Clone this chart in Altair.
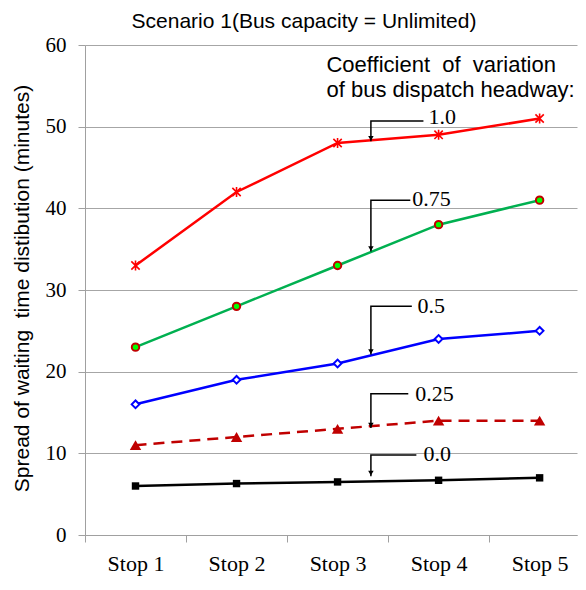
import altair as alt
import pandas as pd

# ---- data ----
stops = ["Stop 1", "Stop 2", "Stop 3", "Stop 4", "Stop 5"]
stop_pos = [1, 2, 3, 4, 5]
cv_labels = ["1.0", "0.75", "0.5", "0.25", "0.0"]
v_10 = [33, 42, 48, 49, 51]
v_075 = [23, 28, 33, 38, 41]
v_05 = [16, 19, 21, 24, 25]
v_025 = [11, 12, 13, 14, 14]
v_00 = [6.0, 6.3, 6.5, 6.7, 7.0]
series_values = [v_10, v_075, v_05, v_025, v_00]

# callout annotations (data units)
call_x = 3.33
call_elbow_y = [50.7, 41.0, 28.0, 17.3, 9.8]
call_tip_y = [48.2, 34.7, 22.1, 13.1, 7.2]
call_end_x = [3.85, 3.72, 3.735, 3.70, 3.78]
call_text_x = [3.90, 3.74, 3.79, 3.77, 3.85]
call_text_y = [51.2, 41.2, 28.1, 17.3, 9.9]

legend_lines = ["Coefficient\u00a0 of\u00a0 variation", "of bus dispatch headway:"]
legend_x = 2.89
legend_y = [57.6, 54.55]

title_text = "Scenario 1(Bus capacity = Unlimited)"
y_title = "Spread of waiting\u00a0 time distibution (minutes)"

SANS = "Liberation Sans, Arial"
SERIF = "Liberation Serif, Times New Roman"
STAR = "M-1,-1L1,1M-1,1L1,-1M0,-1.2L0,1.2"

styles = {
    "1.0": dict(line=dict(color="#FF0000"),
                point=dict(shape=STAR, size=70, filled=False, stroke="#FF0000", strokeWidth=1.6)),
    "0.75": dict(line=dict(color="#00B050"),
                 point=dict(shape="circle", size=55, filled=True, fill="#00FF00",
                            stroke="#C00000", strokeWidth=2)),
    "0.5": dict(line=dict(color="#0000FF"),
                point=dict(shape="diamond", size=60, filled=True, fill="white",
                           stroke="#0000FF", strokeWidth=2)),
    "0.25": dict(line=dict(color="#C00000", strokeDash=[11, 7]),
                 point=dict(shape="triangle-up", size=130, filled=True, fill="#C00000",
                            stroke="#C00000", strokeWidth=0)),
    "0.0": dict(line=dict(color="#000000"),
                point=dict(shape="square", size=55, filled=True, fill="#000000",
                           stroke="#000000", strokeWidth=0)),
}

x_scale = alt.Scale(domain=[0.5, 5.37], nice=False, zero=False)
y_scale = alt.Scale(domain=[0, 60], nice=False, zero=False)

x_axis = alt.Axis(
    values=[0.5, 1.5, 2.5, 3.5, 4.5],
    labelExpr="'Stop ' + (datum.value + 0.5)",
    labelOffset=50.5, labelFlush=False, labelOverlap=False, labelBound=False,
    title=None, grid=False, domainColor="#A0A0A0", tickColor="#A0A0A0",
    tickSize=7, labelPadding=11, labelFont=SERIF, labelFontSize=22,
    labelColor="black", labelBaseline="top",
)
y_axis = alt.Axis(
    values=[0, 10, 20, 30, 40, 50, 60], title=y_title,
    grid=True, gridColor="#A6A6A6", gridWidth=1,
    domainColor="#A0A0A0", tickColor="#A0A0A0", tickSize=7,
    labelPadding=12, labelFont=SERIF, labelFontSize=21, labelColor="black",
    titleFont=SANS, titleFontSize=21, titleFontWeight="normal", titleColor="black",
    titleX=-63, titleY=243, titleBaseline="middle", titleAlign="center", titleAngle=-90,
)

X = lambda f: alt.X(f, scale=x_scale, axis=x_axis)
Y = lambda f: alt.Y(f, scale=y_scale, axis=y_axis)

layers = []
for lab, vals in zip(cv_labels, series_values):
    df = pd.DataFrame({"x": stop_pos, "stop": stops, "v": vals})
    base = alt.Chart(df)
    st = styles[lab]
    line = base.mark_line(strokeWidth=2.5, **st["line"]).encode(x=X("x:Q"), y=Y("v:Q"))
    pts = base.mark_point(opacity=1, **st["point"]).encode(x=X("x:Q"), y=Y("v:Q"))
    layers += [line, pts]

# callout lines
rows = []
for lab, ey, ty, ex in zip(cv_labels, call_elbow_y, call_tip_y, call_end_x):
    rows += [dict(s=lab, o=0, x=ex, y=ey), dict(s=lab, o=1, x=call_x, y=ey),
             dict(s=lab, o=2, x=call_x, y=ty)]
call_df = pd.DataFrame(rows)
callout = alt.Chart(call_df).mark_line(color="black", strokeWidth=1.5).encode(
    x=X("x:Q"), y=Y("y:Q"), detail="s:N", order="o:Q")

tips_df = pd.DataFrame({"x": [call_x] * 5, "y": call_tip_y})
arrows = alt.Chart(tips_df).mark_point(
    shape="triangle-down", size=30, filled=True, fill="black", stroke="black",
    strokeWidth=0, opacity=1, yOffset=-3).encode(x=X("x:Q"), y=Y("y:Q"))

lab_df = pd.DataFrame({"x": call_text_x, "y": call_text_y, "t": cv_labels})
call_text = alt.Chart(lab_df).mark_text(
    align="left", baseline="middle", font=SERIF, fontSize=22, color="black").encode(
    x=X("x:Q"), y=Y("y:Q"), text="t:N")

leg_df = pd.DataFrame({"x": [legend_x] * 2, "y": legend_y, "t": legend_lines})
leg_text = alt.Chart(leg_df).mark_text(
    align="left", baseline="middle", font=SANS, fontSize=22, color="black").encode(
    x=X("x:Q"), y=Y("y:Q"), text="t:N")

chart = alt.layer(*layers, callout, arrows, call_text, leg_text).properties(
    width=492, height=490,
    autosize=alt.AutoSizeParams(type="none"),
    padding={"left": 77, "top": 37, "right": 1, "bottom": 42},
    background="white",
    title=alt.Title(title_text, font=SANS, fontSize=21, fontWeight="normal",
                    color="black", anchor="middle", dx=-27, offset=2),
).configure_view(stroke=None)

chart.save("out.html", embed_options={"renderer": "svg", "actions": False})
